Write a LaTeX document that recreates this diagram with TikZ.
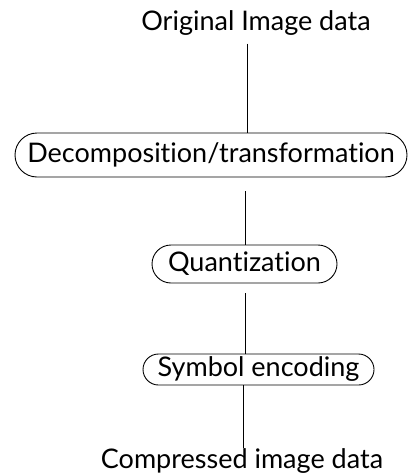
\documentclass[tikz,border=0pt]{standalone}
\usepackage{fontspec}
\setmainfont[Ligatures={NoCommon,NoRare}]{Lato}
\usetikzlibrary{shapes.misc}
\begin{document}
\begin{tikzpicture}[x=1pt,y=-1pt,
  lbl/.style={font=\fontsize{27}{30}\selectfont, inner sep=0pt},
  stage/.style={rounded rectangle, draw, line width=0.9pt, inner sep=0pt,
    font=\fontsize{27}{30}\selectfont},
  conn/.style={line width=0.9pt}]
\useasboundingbox (0,0) rectangle (410,474);
\node[lbl] (orig) at (256,23) {Original Image data};
\node[stage, minimum width=392pt, minimum height=44pt] (dec) at (211,155) {Decomposition/transformation};
\node[stage, minimum width=185pt, minimum height=38pt] (qua) at (244.5,264) {Quantization};
\node[stage, minimum width=231pt, minimum height=31pt] (sym) at (258.5,369.5) {Symbol encoding};
\node[lbl] (comp) at (242,461) {Compressed image data};
\coordinate (c1) at (247,0);
\coordinate (c2) at (245,0);
\coordinate (c3) at (245,0);
\coordinate (c4) at (243,0);
\draw[conn] (orig.south -| c1) ++(0,8) -- (dec.north -| c1);
\draw[conn] (dec.south -| c2) ++(0,14) -- (qua.north -| c2);
\draw[conn] (qua.south -| c3) ++(0,10) -- (sym.north -| c3);
\draw[conn] (sym.south -| c4) -- (comp.north -| c4);
\end{tikzpicture}
\end{document}
